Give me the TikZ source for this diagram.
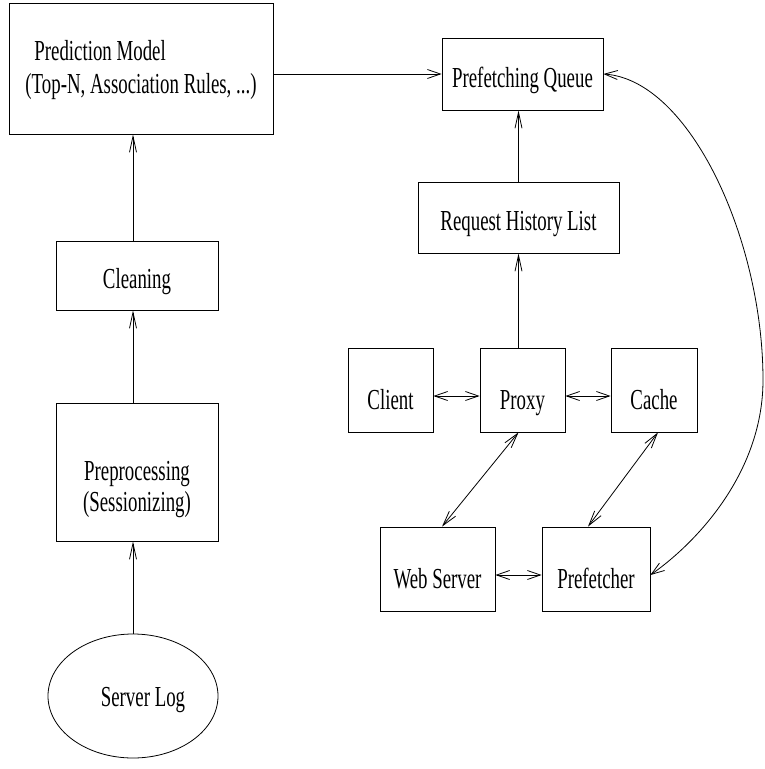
\documentclass[tikz,border=0pt]{standalone}
\usepackage{fontspec}
\setmainfont{Liberation Serif}[FakeStretch=0.65]
\usetikzlibrary{arrows.meta,shapes.geometric,calc}
\begin{document}
\begin{tikzpicture}[x=1pt,y=-1pt,
  box/.style={draw, line width=0.8pt, inner sep=0pt, font=\fontsize{29pt}{33pt}\selectfont},
  one/.style={text depth=0pt, text height=#1},
  line/.style={line width=0.8pt},
  varr/.style={line, -{Straight Barb[length=16pt,width=7pt]}},
  harr/.style={line, -{Straight Barb[length=13pt,width=9pt]}},
  hdarr/.style={line, {Straight Barb[length=13pt,width=9pt]}-{Straight Barb[length=13pt,width=9pt]}},
  ddarr/.style={line, {Straight Barb[length=15pt,width=8pt]}-{Straight Barb[length=15pt,width=8pt]}}]
\useasboundingbox (0,0) rectangle (764,769);
% left column
\node[box, minimum width=264pt, minimum height=131pt, align=left] (pm) at (141,68.5)
  {\rule{0pt}{23pt}\hspace*{9pt}Prediction Model\\(Top-N, Association Rules, ...)};
\node[box, one=25pt, minimum width=162pt, minimum height=69pt] (clean) at (137,275.5) {Cleaning};
\node[box, minimum width=162pt, minimum height=138pt, align=center,
  font=\fontsize{29pt}{31pt}\selectfont] (prep) at (137,472)
  {\rule{0pt}{55pt}Preprocessing\\(Sessionizing)};
\node[box, ellipse, one=20pt, minimum width=170pt, minimum height=124pt] (log) at (133,696)
  {\hspace*{20pt}Server Log};
% right part
\node[box, one=27pt, minimum width=161pt, minimum height=72pt] (pq) at (522.5,74) {Prefetching Queue};
\node[box, one=25pt, minimum width=201pt, minimum height=71pt] (rhl) at (518.5,217.5) {Request History List};
\node[box, one=39pt, minimum width=85pt, minimum height=84pt] (client) at (390.5,390) {Client};
\node[box, one=39pt, minimum width=85pt, minimum height=84pt] (proxy) at (522.5,390) {Proxy};
\node[box, one=39pt, minimum width=86pt, minimum height=84pt] (cache) at (654,390) {Cache};
\node[box, one=39pt, minimum width=115pt, minimum height=84pt] (ws) at (437.5,569) {Web Server};
\node[box, one=39pt, minimum width=108pt, minimum height=84pt] (pf) at (596,569) {Prefetcher};
% connectors
\draw[harr] (pm.east |- pq.west) -- (pq.west);
\draw[varr] (rhl.north) -- (rhl.north |- pq.south);
\draw[varr] (proxy.north -| rhl.south) -- (rhl.south);
\draw[varr] (clean.north -| log.north) -- (pm.south -| log.north);
\draw[varr] (prep.north -| log.north) -- (clean.south -| log.north);
\draw[varr] (log.north) -- (prep.south -| log.north);
\draw[hdarr] ($(client.east)+(0,6)$) -- ($(proxy.west)+(0,6)$);
\draw[hdarr] ($(proxy.east)+(0,6)$) -- ($(cache.west)+(0,6)$);
\draw[hdarr] ($(ws.east)+(0,6)$) -- ($(pf.west)+(0,6)$);
\draw[ddarr] ($(proxy.south)+(-4,0)$) -- ($(ws.north)+(4.5,0)$);
\draw[ddarr] ($(cache.south)+(4,0)$) -- ($(pf.north)+(-8,0)$);
\draw[hdarr] (pq.east) .. controls (690,80) and (763,240) .. (763,380)
  .. controls (763,470) and (700,540) .. ($(pf.east)+(0,6)$);
\end{tikzpicture}
\end{document}
